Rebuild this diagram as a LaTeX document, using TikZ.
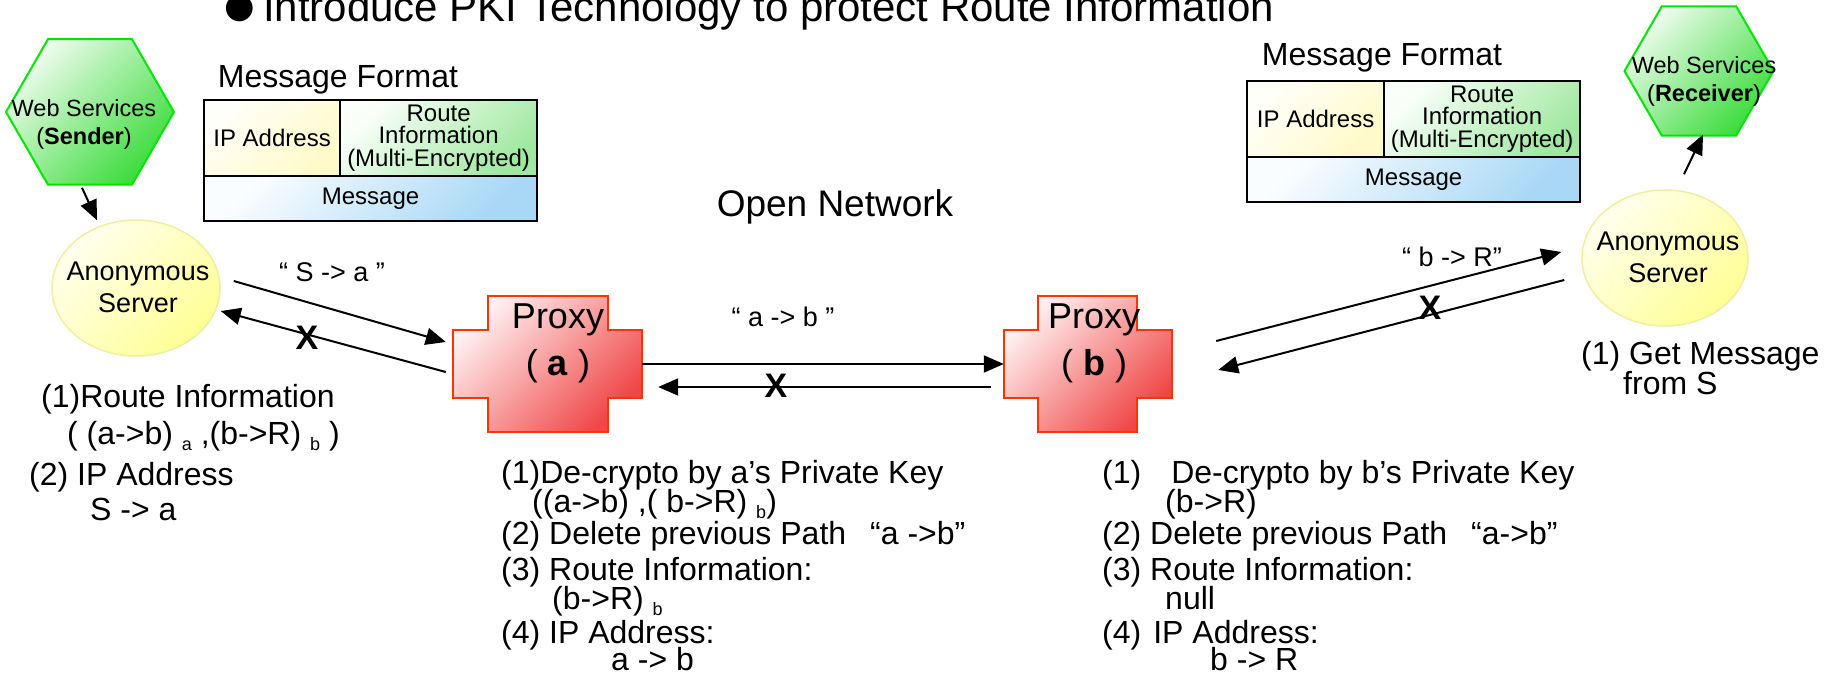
\documentclass[tikz,border=0pt]{standalone}
\usepackage{fontspec}
\setmainfont{Liberation Sans}
\newfontfamily\dejavu{DejaVu Sans}
\usetikzlibrary{arrows.meta,shapes.geometric,calc}
\newcommand\setfs[1]{\fontsize{#1}{#1}\selectfont}
\newcommand\lowsub[1]{\raisebox{-6pt}{\setfs{18}#1}}
\definecolor{hexline}{RGB}{0,230,0}
\definecolor{hexlight}{RGB}{238,252,238}
\definecolor{hexdark}{RGB}{60,220,60}
\definecolor{srvline}{RGB}{240,238,160}
\definecolor{srvlight}{RGB}{255,255,238}
\definecolor{srvdark}{RGB}{255,255,150}
\definecolor{pxline}{RGB}{255,51,0}
\definecolor{pxlight}{RGB}{255,240,240}
\definecolor{pxdark}{RGB}{240,70,70}
\definecolor{iplight}{RGB}{255,255,250}
\definecolor{ipdark}{RGB}{255,250,200}
\definecolor{rtlight}{RGB}{250,255,250}
\definecolor{rtdark}{RGB}{160,232,160}
\definecolor{msglight}{RGB}{250,253,255}
\definecolor{msgdark}{RGB}{168,216,245}
\begin{document}
\begin{tikzpicture}[x=1pt,y=-1pt,
  hexa/.style={regular polygon, regular polygon sides=6, inner sep=0pt, draw=hexline, line width=2pt, top color=hexlight, bottom color=hexdark, shading angle=45},
  server/.style={ellipse, inner sep=0pt, draw=srvline, line width=1.5pt, top color=srvlight, bottom color=srvdark, shading angle=45},
  proxyshape/.style={draw=pxline, line width=2pt, top color=pxlight, bottom color=pxdark, shading angle=45},
  cell/.style={draw=black, line width=2.2pt, inner sep=0pt, anchor=north west, align=center, font=\setfs{24}},
  iprow/.style={cell, top color=iplight, bottom color=ipdark, shading angle=45},
  rtrow/.style={cell, top color=rtlight, bottom color=rtdark, shading angle=45},
  msgrow/.style={cell, top color=msglight, bottom color=msgdark, shading angle=45},
  conn/.style={line width=2pt, -{Triangle[length=20pt,width=17pt]}},
  txt/.style={inner sep=0pt, anchor=base west, font=\setfs{32}},
  lbl/.style={inner sep=0pt, font=\setfs{27}},
  xmark/.style={inner sep=0pt, font=\bfseries\setfs{34}},
  shapetxt/.style={inner sep=0pt, align=center},
]
\fill[white] (0,0) rectangle (1835,692);
\useasboundingbox (0,0) rectangle (1835,692);

% title
\node[inner sep=0pt, anchor=center] (bullet) at (240,8) {\dejavu\setfs{35}●};
\node[inner sep=0pt, anchor=base west] (title) at (263,22) {\setfs{42}Introduce PKI Technology to protect Route Information};

% sender / receiver hexagons
\node[hexa, minimum size=168pt] (sender) at (90,112) {};
\node[shapetxt, font=\fontsize{23.5}{28}\selectfont] (sendertxt) at (84,124) {Web Services\\(\textbf{Sender})};
\node[hexa, minimum size=149pt] (receiver) at (1699,71) {};
\node[shapetxt, font=\fontsize{23.5}{28}\selectfont] (receivertxt) at (1704,81) {Web Services\\(\textbf{Receiver})};

% anonymous servers
\node[server, minimum width=168pt, minimum height=136pt] (srvS) at (136,288) {};
\node[shapetxt, font=\fontsize{27}{32}\selectfont] (srvStxt) at (138,287) {Anonymous\\Server};
\node[server, minimum width=166pt, minimum height=136pt] (srvR) at (1665,258) {};
\node[shapetxt, font=\fontsize{27}{32}\selectfont] (srvRtxt) at (1668,257) {Anonymous\\Server};

% proxies
\path[proxyshape] (453,330) -- (488,330) -- (488,296) -- (608,296) -- (608,330) -- (642,330)
  -- (642,398) -- (608,398) -- (608,432) -- (488,432) -- (488,398) -- (453,398) -- cycle;
\node[inner sep=0pt, minimum width=189pt, minimum height=136pt] (pa) at (547.5,364) {};
\node[shapetxt, font=\fontsize{36}{47}\selectfont] (patxt) at (558,343) {Proxy\\( \textbf{a} )};
\path[proxyshape] (1004,330) -- (1038,330) -- (1038,296) -- (1137,296) -- (1137,330) -- (1172,330)
  -- (1172,398) -- (1137,398) -- (1137,432) -- (1038,432) -- (1038,398) -- (1004,398) -- cycle;
\node[inner sep=0pt, minimum width=168pt, minimum height=136pt] (pb) at (1088,364) {};
\node[shapetxt, font=\fontsize{36}{47}\selectfont] (pbtxt) at (1094,343) {Proxy\\( \textbf{b} )};

% message formats
\node[inner sep=0pt, font=\setfs{32}] (mfL) at (338,80) {Message Format};
\node[iprow, minimum width=136pt, minimum height=76pt] (ipL) at (203,99) {IP Address};
\node[rtrow, minimum width=197pt, minimum height=76pt, font=\fontsize{24}{22.5}\selectfont] (rtL) at (339,99) {Route\\Information\\(Multi-Encrypted)};
\node[msgrow, minimum width=333pt, minimum height=45pt] (msgL) at (203,175) {Message};

\node[inner sep=0pt, font=\setfs{32}] (mfR) at (1382,58) {Message Format};
\node[iprow, minimum width=137pt, minimum height=76pt] (ipR) at (1246,80) {IP Address};
\node[rtrow, minimum width=196pt, minimum height=76pt, font=\fontsize{24}{22.5}\selectfont] (rtR) at (1383,80) {Route\\Information\\(Multi-Encrypted)};
\node[msgrow, minimum width=333pt, minimum height=45pt] (msgR) at (1246,156) {Message};

\node[inner sep=0pt, font=\setfs{37}] (open) at (835,207) {Open Network};

% connectors
\draw[conn] ($(sender.south)+(-8,2)$) -- ($(srvS.north)+(-39,1)$);
\draw[conn] ($(srvR.north)+(19,-15)$) -- ($(receiver.south)+(4,-2)$);
\draw[conn] ($(srvS.east)+(13,-7)$) -- ($(pa.west)+(-7,-22)$);
\draw[conn] ($(pa.west)+(-7,8)$) -- ($(srvS.east)+(0,23)$);
\draw[conn] (pa.east) -- (pb.west);
\draw[conn] ($(pb.west)+(-13,23)$) -- ($(pa.east)+(16,23)$);
\draw[conn] ($(pb.east)+(44,-23)$) -- ($(srvR.west)+(-20,-6)$);
\draw[conn] ($(srvR.west)+(-17,22)$) -- ($(pb.east)+(46,6)$);

% connector labels and crosses
\node[lbl] (lSa) at (332,272) {“ S -> a ”};
\node[lbl] (lab) at (783,317) {“ a -> b ”};
\node[lbl] (lbR) at (1452,257) {“ b -> R”};
\node[xmark] (x1) at (307,338) {X};
\node[xmark] (x2) at (776,386) {X};
\node[xmark] (x3) at (1430,308) {X};

% left notes
\node[txt] (s1) at (41,407) {(1)Route Information};
\node[txt] (s2) at (67,444) {( (a->b) \lowsub{a} ,(b->R) \lowsub{b} )};
\node[txt] (s3) at (29,485) {(2) IP Address};
\node[txt] (s4) at (90,520) {S -> a};

% proxy a notes
\node[txt] (a1) at (501,483) {(1)De-crypto by a’s Private Key};
\node[txt] (a2) at (532,512) {((a->b) ,( b->R) \lowsub{b})};
\node[txt] (a3) at (501,544) {(2) Delete previous Path\hspace{24pt}“a ->b”};
\node[txt] (a4) at (501,580) {(3) Route Information:};
\node[txt] (a5) at (552,609) {(b->R) \lowsub{b}};
\node[txt] (a6) at (501,643) {(4) IP Address:};
\node[txt] (a7) at (611,670) {a -> b};

% proxy b notes
\node[txt] (b1) at (1102,483) {(1)\hspace{30pt}De-crypto by b’s Private Key};
\node[txt] (b2) at (1165,512) {(b->R)};
\node[txt] (b3) at (1102,544) {(2) Delete previous Path\hspace{24pt}“a->b”};
\node[txt] (b4) at (1102,580) {(3) Route Information:};
\node[txt] (b5) at (1165,609) {null};
\node[txt] (b6) at (1102,643) {(4)\hspace{12pt}IP Address:};
\node[txt] (b7) at (1210,670) {b -> R};

% receiver notes
\node[txt] (r1) at (1581,364) {(1) Get Message};
\node[txt] (r2) at (1623,394) {from S};
\end{tikzpicture}
\end{document}
